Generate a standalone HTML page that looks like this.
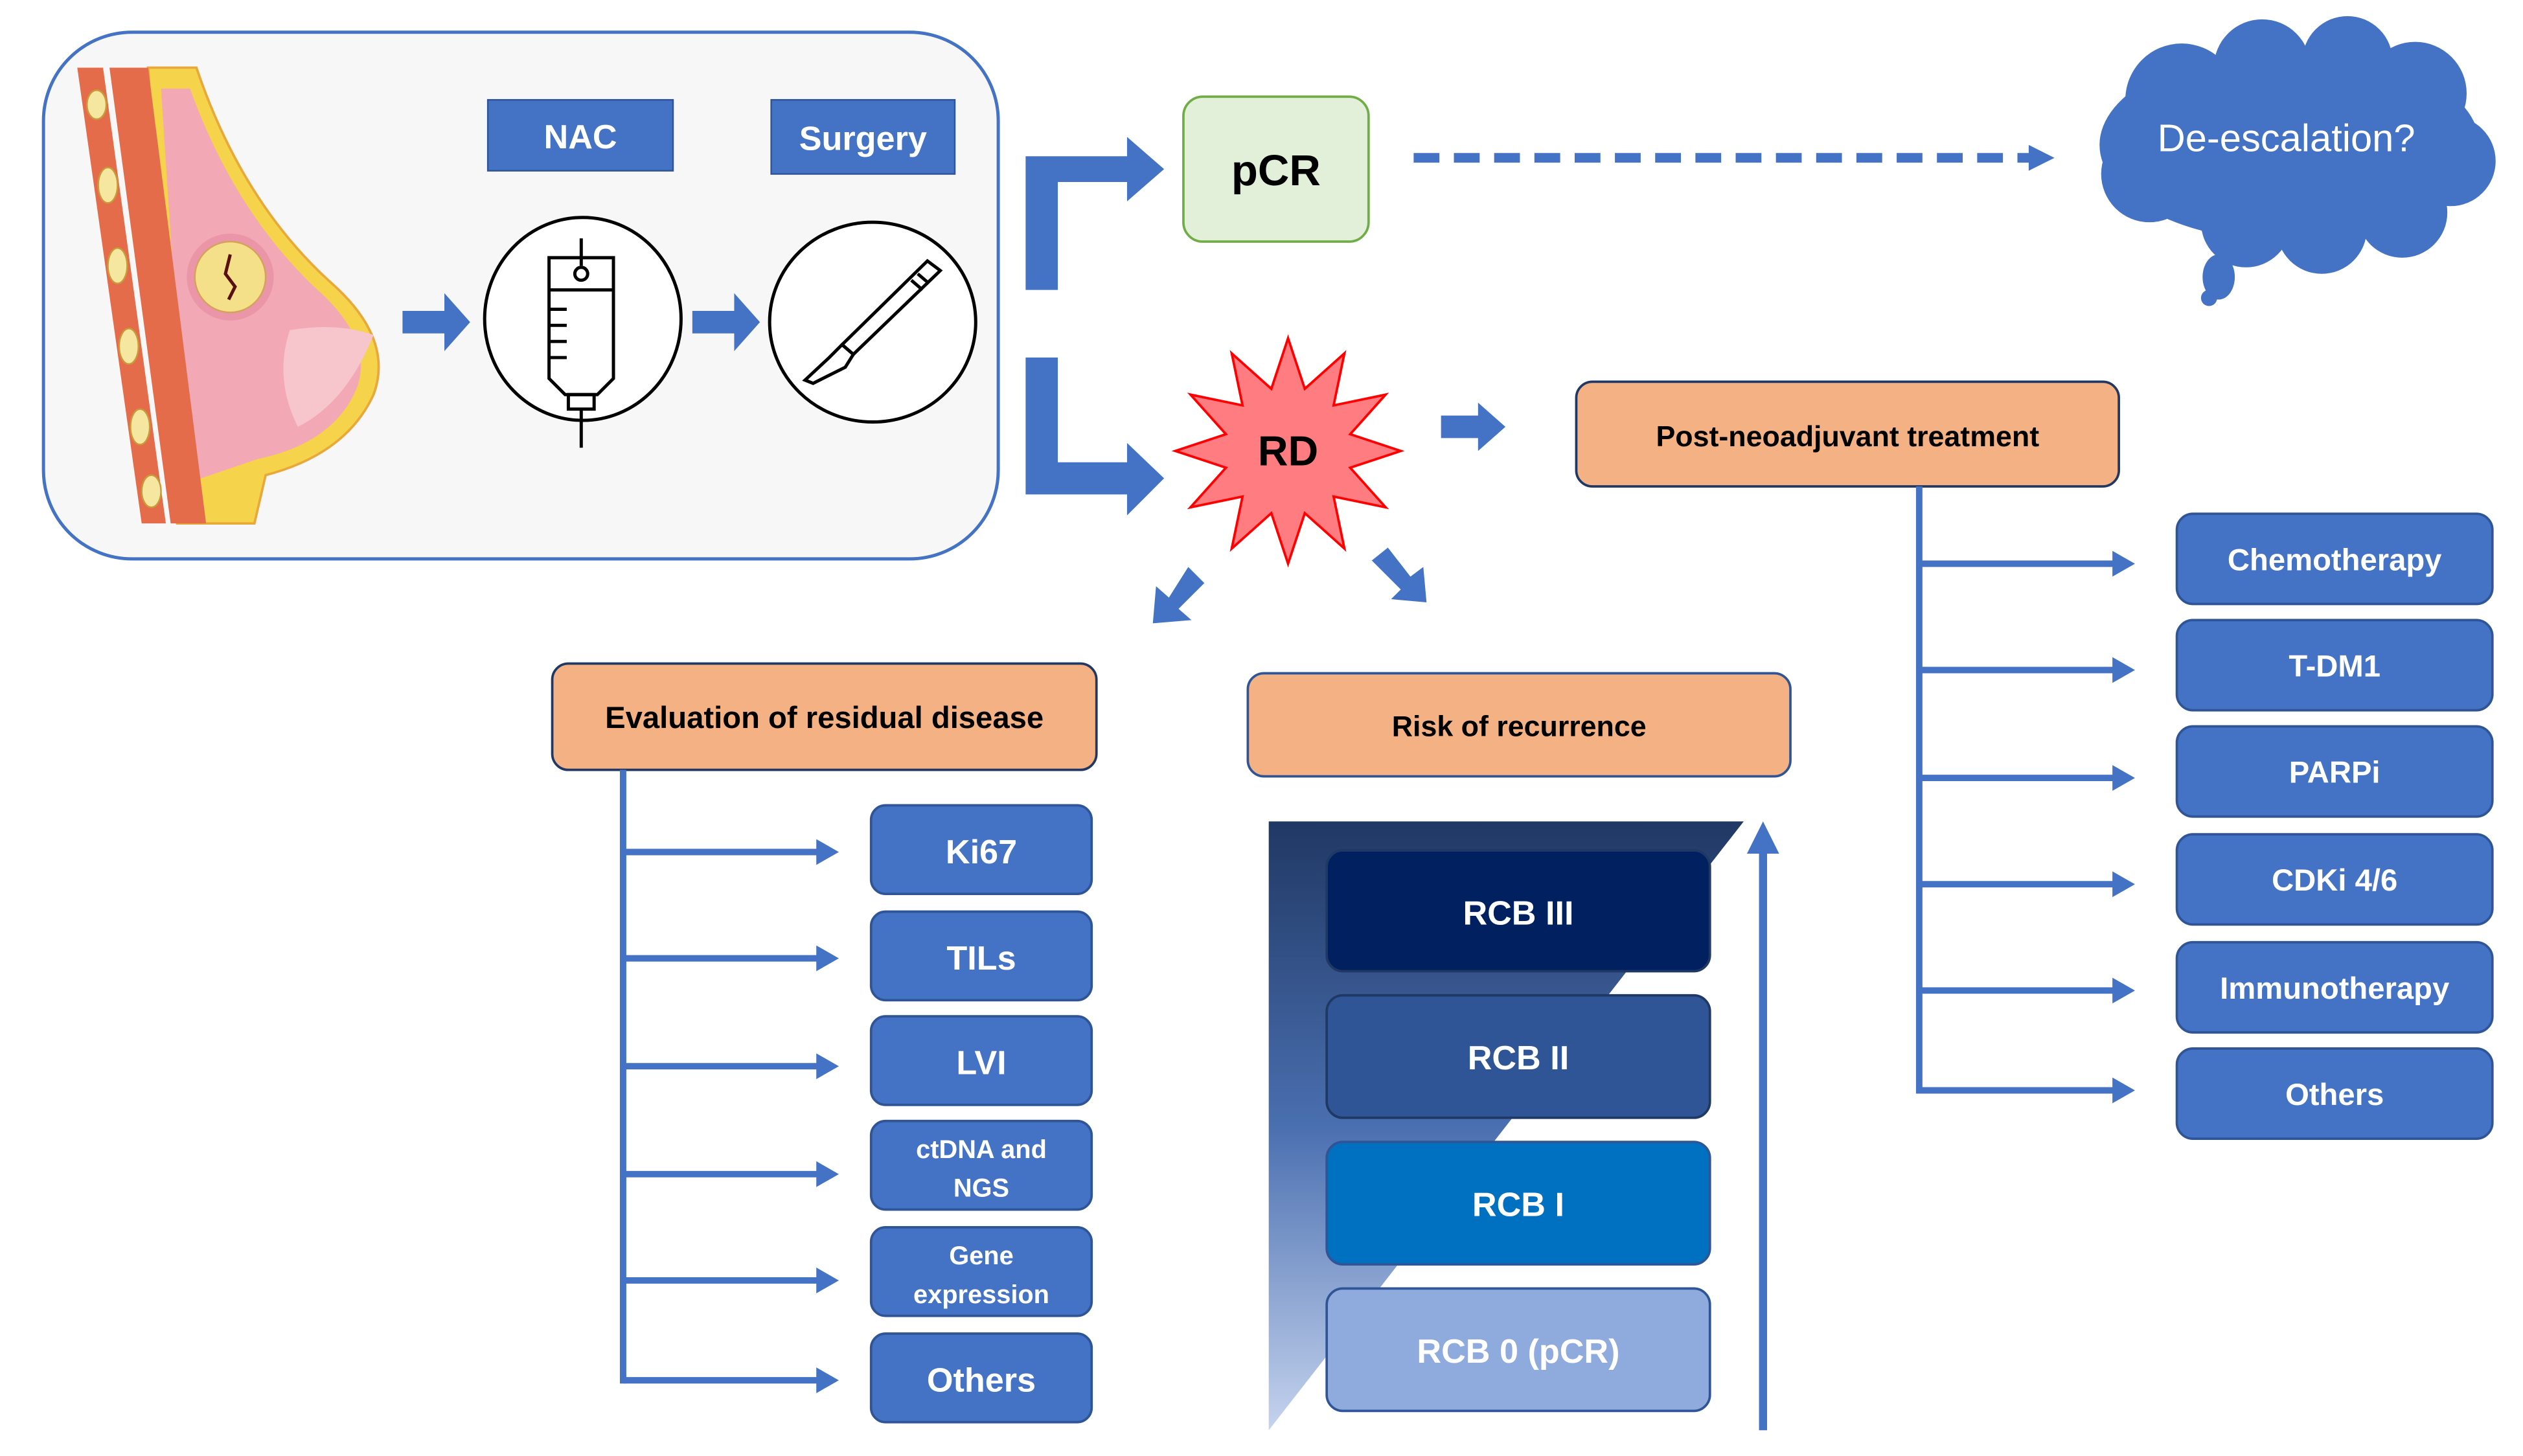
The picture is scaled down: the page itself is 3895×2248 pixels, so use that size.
<!DOCTYPE html>
<html><head><meta charset="utf-8"><style>html,body{margin:0;padding:0;background:#fff}svg{display:block}</style></head>
<body>
<svg width="3895" height="2248" viewBox="0 0 1567 904" preserveAspectRatio="none" xmlns="http://www.w3.org/2000/svg" font-family="Liberation Sans, sans-serif" font-weight="bold">
<defs>
<linearGradient id="g" x1="0" y1="0" x2="0" y2="1">
<stop offset="0" stop-color="#203864"/><stop offset="0.5" stop-color="#4a6fb0"/><stop offset="1" stop-color="#c5d3ee"/>
</linearGradient>
</defs>
<rect x="27" y="20" width="593" height="327" rx="55" fill="#f7f7f7" stroke="#4472c4" stroke-width="2"/>
<path d="M92,42 L122,42 Q150,125 205,175 Q245,210 232,245 Q215,282 165,295 L158,325 L110,325 Z" fill="#f5d34a" stroke="#e9a93a" stroke-width="1.5"/>
<path d="M100,55 L118,55 Q145,130 195,178 Q232,210 222,240 Q208,275 160,285 L116,300 Z" fill="#f2a9b5"/>
<path d="M180,205 Q210,200 232,208 Q215,250 185,265 Q170,235 180,205Z" fill="#f7c6cc"/>
<polygon points="48,42 64,42 103,325 88,325" fill="#e56c4a"/>
<polygon points="68,42 92,42 128,325 106,325" fill="#e56c4a"/>
<circle cx="143" cy="172" r="27" fill="#e58aa0" opacity="0.6"/>
<circle cx="143" cy="172" r="22" fill="#f5e08a" stroke="#d4a25a"/>
<path d="M143,158 L140,170 L146,178 L142,186" stroke="#5a1010" stroke-width="2" fill="none"/>
<g fill="#f6e7a0" stroke="#c89b3a"><ellipse cx="60" cy="65" rx="6" ry="9"/><ellipse cx="67" cy="115" rx="6" ry="11"/><ellipse cx="73" cy="165" rx="6" ry="11"/><ellipse cx="80" cy="215" rx="6" ry="11"/><ellipse cx="87" cy="265" rx="6" ry="11"/><ellipse cx="94" cy="305" rx="6" ry="10"/></g>
<rect x="303" y="62" width="115" height="44" fill="#4472c4" stroke="#2f5597"/>
<text x="360.5" y="92" fill="#fff" font-size="21" text-anchor="middle">NAC</text>
<rect x="479" y="62" width="114" height="46" fill="#4472c4" stroke="#2f5597"/>
<text x="536" y="93" fill="#fff" font-size="21" text-anchor="middle">Surgery</text>
<polygon points="250,193 276,193 276,182 292,200 276,218 276,207 250,207" fill="#4472c4"/>
<polygon points="430,193 456,193 456,182 472,200 456,218 456,207 430,207" fill="#4472c4"/>
<ellipse cx="362" cy="198" rx="61" ry="63" fill="#fff" stroke="#000" stroke-width="2"/>
<ellipse cx="542" cy="200" rx="64" ry="62" fill="#fff" stroke="#000" stroke-width="2"/>
<g stroke="#000" stroke-width="2" fill="none">
<path d="M341,160 h40 v75 l-10,10 h-20 l-10,-10 Z"/><line x1="361" y1="148" x2="361" y2="165"/><circle cx="361" cy="170" r="4"/>
<line x1="341" y1="180" x2="381" y2="180"/><line x1="341" y1="192" x2="352" y2="192"/><line x1="341" y1="202" x2="352" y2="202"/><line x1="341" y1="212" x2="352" y2="212"/><line x1="341" y1="222" x2="352" y2="222"/>
<rect x="353" y="245" width="16" height="9"/><line x1="361" y1="254" x2="361" y2="278"/>
</g>
<g stroke="#000" stroke-width="2" fill="none">
<path d="M576,162 L584,168 L530,220 L523,214 Z"/><path d="M523,214 L530,220 L525,228 L505,238 L500,236 L515,222 Z"/>
<line x1="570" y1="170" x2="577" y2="176"/><line x1="566" y1="174" x2="573" y2="180"/>
</g>
<polygon points="637,180 657,180 657,113 700,113 700,85 723,105 700,125 700,97 637,97" fill="#4472c4"/>
<polygon points="637,222 657,222 657,287 700,287 700,275 723,297 700,320 700,307 637,307" fill="#4472c4"/>
<rect x="735" y="60" width="115" height="90" rx="12" fill="#e2efd9" stroke="#70ad47" stroke-width="1.5"/>
<text x="792.5" y="115" fill="#000" font-size="27" text-anchor="middle">pCR</text>
<line x1="878" y1="98" x2="1262" y2="98" stroke="#4472c4" stroke-width="6" stroke-dasharray="16,9"/>
<polygon points="1260,90 1276,98 1260,106" fill="#4472c4"/>
<g fill="#4472c4">
<ellipse cx="1422" cy="90" rx="118" ry="60"/>
<circle cx="1355" cy="62" r="35"/><circle cx="1405" cy="42" r="30"/><circle cx="1458" cy="38" r="28"/><circle cx="1500" cy="58" r="32"/><circle cx="1522" cy="100" r="28"/><circle cx="1492" cy="132" r="28"/><circle cx="1442" cy="142" r="28"/><circle cx="1395" cy="138" r="28"/><circle cx="1335" cy="108" r="30"/>
<ellipse cx="1378" cy="172" rx="10" ry="14"/><circle cx="1372" cy="185" r="5"/>
</g>
<text x="1420" y="94" fill="#fff" font-size="24" font-weight="normal" text-anchor="middle">De-escalation?</text>
<polygon points="800,210 810.4,241.4 835,219.4 828.3,251.7 860.6,245 838.6,269.6 870,280 838.6,290.4 860.6,315 828.3,308.3 835,340.6 810.4,318.6 800,350 789.6,318.6 765,340.6 771.7,308.3 739.4,315 761.4,290.4 730,280 761.4,269.6 739.4,245 771.7,251.7 765,219.4 789.6,241.4" fill="#ff7c80" stroke="#ff0000" stroke-width="1.5"/>
<text x="800" y="289" fill="#000" font-size="26" text-anchor="middle">RD</text>
<polygon points="895,258 918,258 918,250 935,265 918,280 918,272 895,272" fill="#4472c4"/>
<g fill="#4472c4">
<polygon points="738,352 748,362 732,378 740,385 716,387 718,364 726,371" />
<polygon points="852,348 862,340 876,358 884,352 886,374 864,372 870,366"/>
</g>
<rect x="979" y="237" width="337" height="65" rx="10" fill="#f4b183" stroke="#203864" stroke-width="1.5"/>
<text x="1147.5" y="277" fill="#000" font-size="18" text-anchor="middle">Post-neoadjuvant treatment</text>
<g stroke="#4472c4" stroke-width="4" fill="none">
<line x1="1192" y1="302" x2="1192" y2="679"/>
<line x1="1192" y1="350" x2="1315" y2="350"/><line x1="1192" y1="416" x2="1315" y2="416"/><line x1="1192" y1="483" x2="1315" y2="483"/><line x1="1192" y1="549" x2="1315" y2="549"/><line x1="1192" y1="615" x2="1315" y2="615"/><line x1="1192" y1="677" x2="1315" y2="677"/>
</g>
<g fill="#4472c4"><polygon points="1312,342 1326,350 1312,358"/><polygon points="1312,408 1326,416 1312,424"/><polygon points="1312,475 1326,483 1312,491"/><polygon points="1312,541 1326,549 1312,557"/><polygon points="1312,607 1326,615 1312,623"/><polygon points="1312,669 1326,677 1312,685"/></g>
<g fill="#4472c4" stroke="#2f5597" stroke-width="1.5">
<rect x="1352" y="319" width="196" height="56" rx="10"/><rect x="1352" y="385" width="196" height="56" rx="10"/><rect x="1352" y="451" width="196" height="56" rx="10"/><rect x="1352" y="518" width="196" height="56" rx="10"/><rect x="1352" y="585" width="196" height="56" rx="10"/><rect x="1352" y="651" width="196" height="56" rx="10"/>
</g>
<g fill="#fff" font-size="19" text-anchor="middle">
<text x="1450" y="354">Chemotherapy</text><text x="1450" y="420">T-DM1</text><text x="1450" y="486">PARPi</text><text x="1450" y="553">CDKi 4/6</text><text x="1450" y="620">Immunotherapy</text><text x="1450" y="686">Others</text>
</g>
<rect x="343" y="412" width="338" height="66" rx="10" fill="#f4b183" stroke="#203864" stroke-width="1.5"/>
<text x="512" y="452" fill="#000" font-size="19" text-anchor="middle">Evaluation of residual disease</text>
<g stroke="#4472c4" stroke-width="4" fill="none">
<line x1="387" y1="478" x2="387" y2="859"/>
<line x1="387" y1="529" x2="510" y2="529"/><line x1="387" y1="595" x2="510" y2="595"/><line x1="387" y1="662" x2="510" y2="662"/><line x1="387" y1="729" x2="510" y2="729"/><line x1="387" y1="795" x2="510" y2="795"/><line x1="387" y1="857" x2="510" y2="857"/>
</g>
<g fill="#4472c4"><polygon points="507,521 521,529 507,537"/><polygon points="507,587 521,595 507,603"/><polygon points="507,654 521,662 507,670"/><polygon points="507,721 521,729 507,737"/><polygon points="507,787 521,795 507,803"/><polygon points="507,849 521,857 507,865"/></g>
<g fill="#4472c4" stroke="#2f5597" stroke-width="1.5">
<rect x="541" y="500" width="137" height="55" rx="9"/><rect x="541" y="566" width="137" height="55" rx="9"/><rect x="541" y="631" width="137" height="55" rx="9"/><rect x="541" y="696" width="137" height="55" rx="9"/><rect x="541" y="762" width="137" height="55" rx="9"/><rect x="541" y="828" width="137" height="55" rx="9"/>
</g>
<g fill="#fff" text-anchor="middle">
<text x="609.5" y="536" font-size="21">Ki67</text><text x="609.5" y="602" font-size="21">TILs</text><text x="609.5" y="667" font-size="21">LVI</text>
<text x="609.5" y="719" font-size="16">ctDNA and</text><text x="609.5" y="743" font-size="16">NGS</text>
<text x="609.5" y="785" font-size="16">Gene</text><text x="609.5" y="809" font-size="16">expression</text>
<text x="609.5" y="864" font-size="21">Others</text>
</g>
<rect x="775" y="418" width="337" height="64" rx="10" fill="#f4b183" stroke="#2f5597" stroke-width="1.5"/>
<text x="943.5" y="457" fill="#000" font-size="18" text-anchor="middle">Risk of recurrence</text>
<polygon points="788,510 1083,510 788,888" fill="url(#g)"/>
<line x1="1095" y1="888" x2="1095" y2="525" stroke="#4472c4" stroke-width="5"/>
<polygon points="1085,530 1095,510 1105,530" fill="#4472c4"/>
<rect x="824" y="528" width="238" height="75" rx="10" fill="#002060" stroke="#203864" stroke-width="1.5"/>
<rect x="824" y="618" width="238" height="76" rx="10" fill="#2f5597" stroke="#1f3864" stroke-width="1.5"/>
<rect x="824" y="709" width="238" height="76" rx="10" fill="#0070c0" stroke="#2f5597" stroke-width="1.5"/>
<rect x="824" y="800" width="238" height="76" rx="10" fill="#8faadc" stroke="#2f5597" stroke-width="1.5"/>
<g fill="#fff" font-size="21" text-anchor="middle">
<text x="943" y="574">RCB III</text><text x="943" y="664">RCB II</text><text x="943" y="755">RCB I</text><text x="943" y="846">RCB 0 (pCR)</text>
</g>
</svg>
</body></html>
